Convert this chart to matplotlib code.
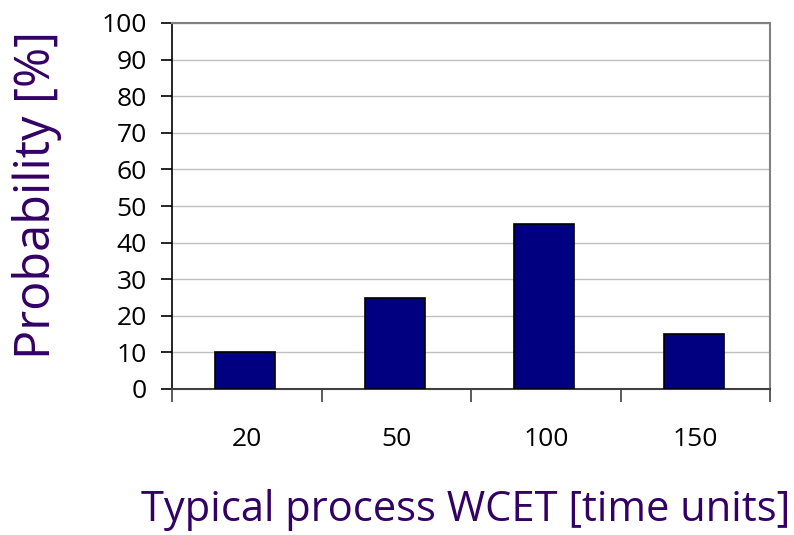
import matplotlib.pyplot as plt
import numpy as np

categories = ["20", "50", "100", "150"]
probability = [10, 25, 45, 15]
y_ticks = [0, 10, 20, 30, 40, 50, 60, 70, 80, 90, 100]

plt.rcParams['font.family'] = ['Open Sans', 'DejaVu Sans']

W, H = 794, 535
fig = plt.figure(figsize=(W / 100, H / 100), dpi=100)
ax = fig.add_axes([172/W, 1-389/H, (770-172)/W, (389-23)/H])

x = np.arange(len(categories))
ax.bar(x - 0.01, probability, width=0.4, color="#000080", edgecolor="black", linewidth=1.2, zorder=3)

ax.set_xlim(-0.5, len(categories) - 0.5)
ax.set_ylim(0, 100)
ax.set_yticks(y_ticks)
ax.yaxis.grid(True, color="#c0c0c0", linewidth=1, zorder=0)
ax.tick_params(axis='y', direction='out', length=8, width=1.2, labelsize=19, pad=10)

ax.set_xticks(x)
ax.set_xticklabels(categories)
ax.tick_params(axis='x', which='major', length=0, labelsize=19, pad=27)
ax.set_xticks(np.arange(len(categories) + 1) - 0.5, minor=True)
ax.tick_params(axis='x', which='minor', direction='out', length=9, width=1.2, color="#404040")

ax.spines['left'].set_color("black")
ax.spines['left'].set_linewidth(1.2)
ax.spines['bottom'].set_color("#404040")
ax.spines['bottom'].set_linewidth(1.5)
ax.spines['top'].set_color("#808080")
ax.spines['top'].set_linewidth(1.5)
ax.spines['right'].set_color("#808080")
ax.spines['right'].set_linewidth(1.5)

fig.text(37/W, 1-195/H, "Probability [%]", rotation=90, fontsize=35,
         color="#330066", ha="center", va="center")
fig.text(466/W, 1-510/H, "Typical process WCET [time units]", fontsize=30,
         color="#330066", ha="center", va="center")

fig.savefig("out.png", dpi=100)
